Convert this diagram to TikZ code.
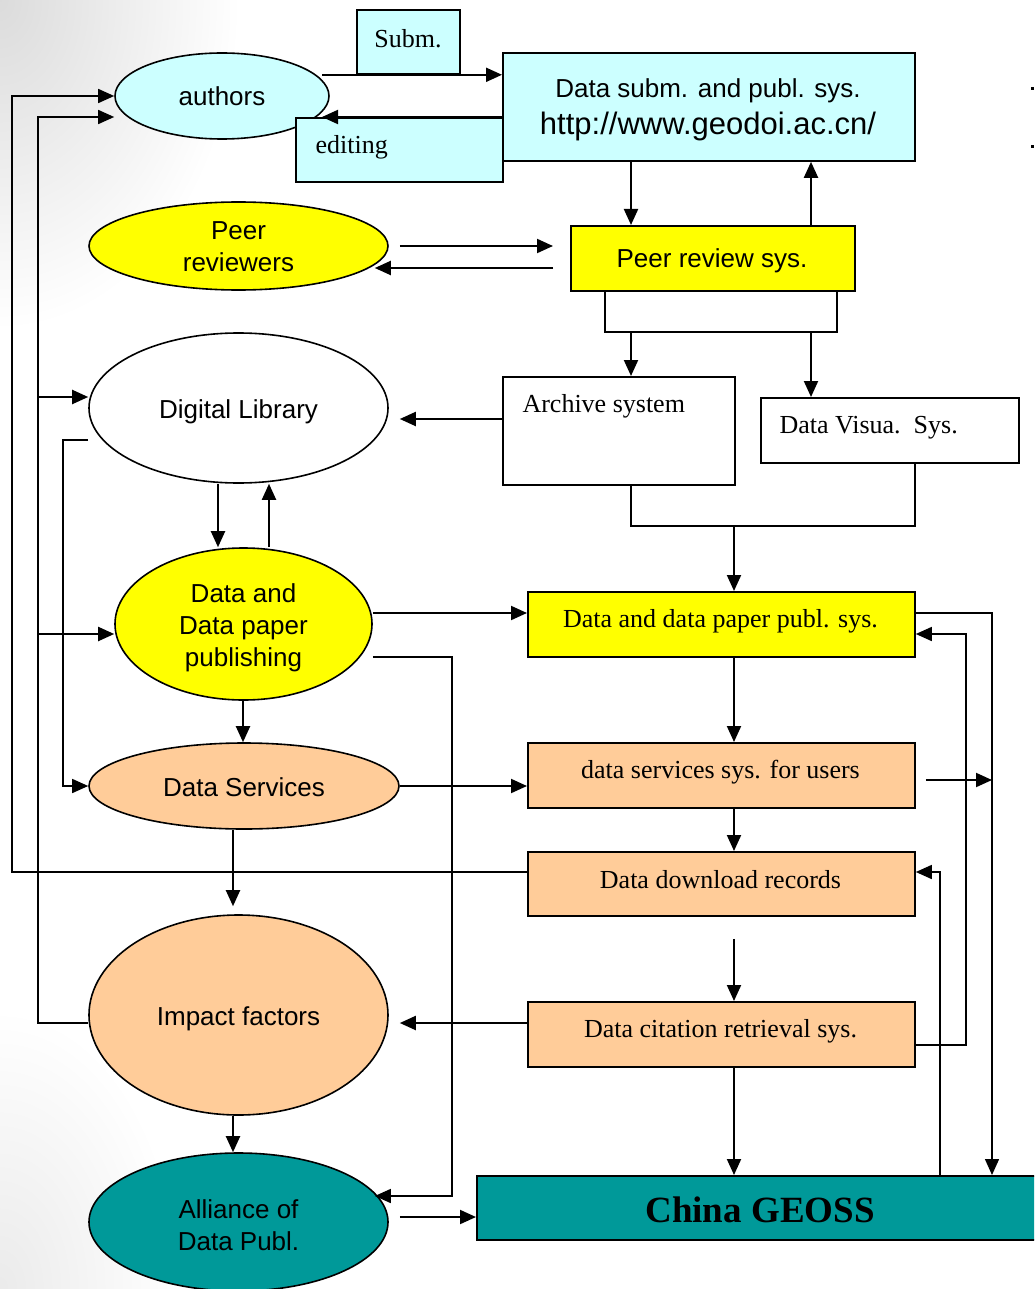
\documentclass[tikz,border=0pt]{standalone}
\usepackage{fontspec}
\setmainfont{Liberation Serif}
\setsansfont{Liberation Sans}
\usetikzlibrary{shapes.geometric,arrows.meta}
\definecolor{lcyan}{HTML}{CCFFFF}
\definecolor{lyel}{HTML}{FFFF00}
\definecolor{lorg}{HTML}{FFCC99}
\definecolor{lteal}{HTML}{009999}
\begin{document}
\begin{tikzpicture}[x=1pt,y=-1pt,
  sans/.style={font=\sffamily\fontsize{26}{32}\selectfont},
  serif/.style={font=\rmfamily\fontsize{26}{31}\selectfont},
  oval/.style={ellipse,draw,line width=1.6pt,inner sep=0pt},
  ovaltext/.style 2 args={label={[sans,align=center,yshift=#2]center:#1}},
  box/.style={rectangle,draw,line width=1.8pt,inner sep=0pt,anchor=north west},
  conn/.style={line width=1.5pt},
  arr/.style={line width=2pt,-{Triangle[length=16pt,width=14pt]}},
  thinarr/.style={conn,-{Triangle[length=16pt,width=14pt]}}]
\useasboundingbox (0,0) rectangle (1034,1289);
\clip (0,0) rectangle (1034,1289);
% slide background with soft grey corners
\fill[white] (0,0) rectangle (1034,1289);
\shade[inner color=black!14,outer color=white] (0,0) ellipse (240 and 330);
\shade[inner color=black!8,outer color=white] (0,1289) ellipse (180 and 280);

% ---- ovals (actors / processes)
\node[oval,fill=lcyan,minimum width=214,minimum height=86,ovaltext={authors}{0pt}] (authors) at (222,96) {};
\node[oval,fill=lyel,minimum width=299,minimum height=88,ovaltext={Peer\\reviewers}{-1pt}] (peerr) at (238.5,246) {};
\node[oval,fill=white,minimum width=299,minimum height=150,ovaltext={Digital Library}{-4pt}] (DL) at (238.5,408) {};
\node[oval,fill=lyel,minimum width=257,minimum height=152,ovaltext={Data and\\Data paper\\publishing}{-4pt}] (DDP) at (243.5,624) {};
\node[oval,fill=lorg,minimum width=310,minimum height=86,ovaltext={Data Services}{-1pt}] (DS) at (244,786) {};
\node[oval,fill=lorg,minimum width=299,minimum height=200,ovaltext={Impact factors}{-4pt}] (Imp) at (238.5,1015) {};
\node[oval,fill=lteal,minimum width=299,minimum height=138,ovaltext={Alliance of\\Data Publ.}{-3pt}] (Alli) at (238.5,1222) {};

% ---- system boxes
\node[box,fill=lcyan,minimum width=103,minimum height=64] (subm) at (356,9) {};
\node[serif,anchor=center] at (408,39) {Subm.};
\node[box,fill=lcyan,minimum width=412,minimum height=108] (dsub) at (502,52) {};
\node[sans,anchor=center] at (708,91) {Data subm. and publ. sys.};
\node[sans,anchor=center,font=\sffamily\fontsize{31}{36}\selectfont] at (708,126) {http://www.geodoi.ac.cn/};
\node[box,fill=lcyan,minimum width=207,minimum height=64] (editing) at (295,117) {};
\node[serif,anchor=west] at (312,147) {editing};
\node[box,fill=lyel,minimum width=284,minimum height=65] (peer) at (570,225) {};
\node[sans,anchor=center] at (712,261) {Peer review sys.};
\node[box,fill=white,minimum width=232,minimum height=108] (arch) at (502,376) {};
\node[serif,anchor=west] at (519,406) {Archive system};
\node[box,fill=white,minimum width=258,minimum height=65] (visua) at (760,397) {};
\node[serif,anchor=west] at (776,428) {Data Visua.\ \ Sys.};
\node[box,fill=lyel,minimum width=387,minimum height=65] (dpub) at (527,591) {};
\node[serif,anchor=center] at (720.5,621) {Data and data paper publ. sys.};
\node[box,fill=lorg,minimum width=387,minimum height=65] (dserv) at (527,742) {};
\node[serif,anchor=center] at (720.5,772) {data services sys. for users};
\node[box,fill=lorg,minimum width=387,minimum height=64] (ddown) at (527,851) {};
\node[serif,anchor=center] at (720.5,880) {Data download records};
\node[box,fill=lorg,minimum width=387,minimum height=65] (dcite) at (527,1001) {};
\node[serif,anchor=center] at (720.5,1031) {Data citation retrieval sys.};
\node[box,fill=lteal,minimum width=570,minimum height=64] (geoss) at (476,1175) {};
\node[anchor=center,font=\rmfamily\bfseries\fontsize{37}{40}\selectfont] at (760,1210) {China GEOSS};

% ---- submission / editing loop
\draw[arr] (subm.south -| 322,0) -- (subm.south -| dsub.west);
\draw[arr] (editing.north -| dsub.west) -- (editing.north -| 322,0);
\draw[arr] (dsub.south -| 631,0) -- (peer.north -| 631,0);
\draw[arr] (peer.north -| 811,0) -- (dsub.south -| 811,0);

% ---- peer review
\draw[arr,shorten <=11pt,shorten >=17pt] (peerr.east) -- (peerr.east -| peer.west);
\draw[arr,shorten <=17pt,shorten >=-14pt] (peer.west |- 0,268) -- (peerr.east |- 0,268);
\draw[conn] (peer.south -| 605,0) |- (837,332) -- (peer.south -| 837,0);
\draw[arr] (631,332) -- (arch.north -| 631,0);
\draw[arr] (811,332) -- (visua.north -| 811,0);

% ---- archive / visualisation to publication
\draw[arr,shorten >=11pt] (arch.west |- 0,419) -- (DL.east |- 0,419);
\draw[conn] (arch.south -| 631,0) |- (915,526) -- (visua.south -| 915,0);
\draw[arr] (734,526) -- (dpub.north -| 734,0);

% ---- left column flow
\draw[arr] (DL.south -| 218,0) -- (DDP.north -| 218,0);
\draw[arr] (DDP.north -| 269,0) -- (DL.south -| 269,0);
\draw[arr] (DDP.east |- 0,613) -- (dpub.west |- 0,613);
\draw[thinarr,shorten >=-14pt] (DDP.east |- 0,657) -| (452,1196) -- (Alli.east |- 0,1196);
\draw[arr] (DDP.south -| 243,0) -- (DS.north -| 243,0);
\draw[arr] (DS.east) -- (DS.east -| dserv.west);
\draw[arr,shorten >=8pt] (DS.south -| 233,0) -- (Imp.north -| 233,0);
\draw[arr] (Imp.south -| 233,0) -- (Alli.north -| 233,0);
\draw[arr,shorten <=11pt] (Alli.east |- 0,1217) -- (geoss.west |- 0,1217);

% ---- right column flow
\draw[arr] (dpub.south -| 734,0) -- (dserv.north -| 734,0);
\draw[arr] (dserv.south -| 734,0) -- (ddown.north -| 734,0);
\draw[arr,shorten <=22pt] (ddown.south -| 734,0) -- (dcite.north -| 734,0);
\draw[arr] (dcite.south -| 734,0) -- (geoss.north -| 734,0);
\draw[arr,shorten >=11pt] (dcite.west |- 0,1023) -- (Imp.east |- 0,1023);

% ---- feedback lines on the left
\draw[thinarr] (ddown.west |- 0,872) -| (12,96) -- (authors.west);
\draw[thinarr] (Imp.west |- 0,1023) -| (38,117) -- (authors.west |- 0,117);
\draw[arr] (38,397) -- (DL.west |- 0,397);
\draw[arr] (38,634) -- (DDP.west |- 0,634);
\draw[thinarr] (DL.west |- 0,440) -| (63,786) -- (DS.west);

% ---- feedback lines on the right
\draw[thinarr] (dpub.east |- 0,613) -| (geoss.north -| 992,0);
\draw[arr,shorten <=10pt] (dserv.east |- 0,780) -- (992,780);
\draw[thinarr] (dcite.east |- 0,1045) -| (966,634) -- (dpub.east |- 0,634);
\draw[thinarr] (geoss.north -| 940,0) |- (ddown.east |- 0,872);

% small marks at the right margin
\fill (1031,87) rectangle (1034,90);
\fill (1031,145) rectangle (1034,148);
\end{tikzpicture}
\end{document}
